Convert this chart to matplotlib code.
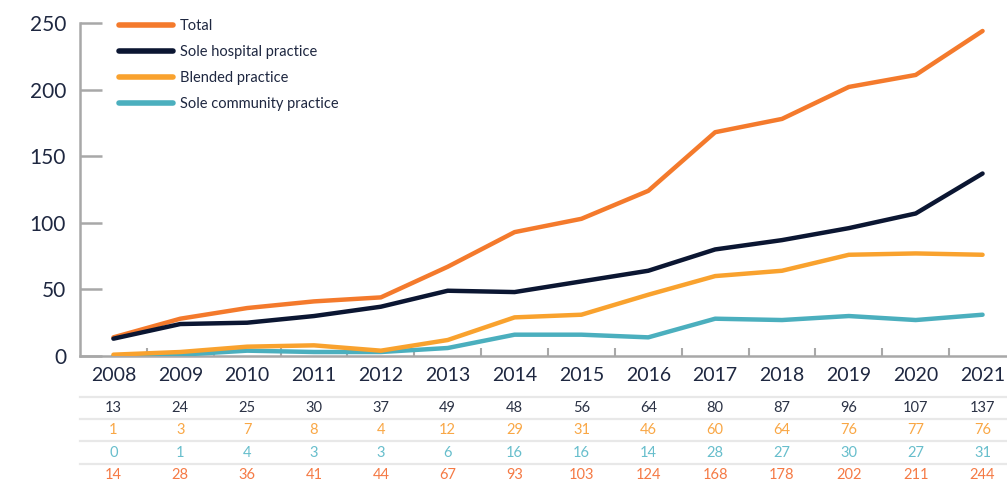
import matplotlib.pyplot as plt
from matplotlib.ticker import FixedLocator

plt.rcParams['font.family'] = ['Lato', 'DejaVu Sans']

years = ['2008', '2009', '2010', '2011', '2012', '2013', '2014',
         '2015', '2016', '2017', '2018', '2019', '2020', '2021']
hospital = [13, 24, 25, 30, 37, 49, 48, 56, 64, 80, 87, 96, 107, 137]
blended = [1, 3, 7, 8, 4, 12, 29, 31, 46, 60, 64, 76, 77, 76]
community = [0, 1, 4, 3, 3, 6, 16, 16, 14, 28, 27, 30, 27, 31]
total = [14, 28, 36, 41, 44, 67, 93, 103, 124, 168, 178, 202, 211, 244]

c_total = '#F47A2C'
c_hosp = '#0B1632'
c_blend = '#F9A22E'
c_comm = '#4BAFBE'
txt = '#1E2740'
axis_grey = '#A8A8A8'

W, H = 1007, 482
fig = plt.figure(figsize=(W / 100, H / 100), dpi=100)
left, right, top, bottom = 80, 1016, 23, 356
ax = fig.add_axes([left / W, 1 - bottom / H, (right - left) / W, (bottom - top) / H])

x = list(range(len(years)))
lw = 3.2
ax.plot(x, total, color=c_total, lw=lw, solid_capstyle='round', zorder=3, label='Total')
ax.plot(x, hospital, color=c_hosp, lw=lw, solid_capstyle='round', zorder=4, label='Sole hospital practice')
ax.plot(x, blended, color=c_blend, lw=lw, solid_capstyle='round', zorder=6, label='Blended practice')
ax.plot(x, community, color=c_comm, lw=lw, solid_capstyle='round', zorder=5, label='Sole community practice')

ax.set_xlim(-0.5, len(years) - 0.5)
ax.set_ylim(0, 250)
ax.spines['top'].set_visible(False)
ax.spines['right'].set_visible(False)
for s in ('left', 'bottom'):
    ax.spines[s].set_color(axis_grey)
    ax.spines[s].set_linewidth(1.8)

ax.set_yticks([0, 50, 100, 150, 200, 250])
ax.tick_params(axis='y', direction='in', length=16, width=1.8, color=axis_grey,
               labelsize=15, labelcolor=txt, pad=10)
ax.set_xticks(x)
ax.set_xticklabels(years)
ax.tick_params(axis='x', which='major', length=0, labelsize=14, labelcolor=txt, pad=8)
ax.xaxis.set_minor_locator(FixedLocator([i + 0.5 for i in range(len(years) - 1)]))
ax.tick_params(axis='x', which='minor', direction='in', length=6, width=1.5, color=axis_grey)

leg = ax.legend(loc='upper left', bbox_to_anchor=(0.028, 1.05), frameon=False,
                fontsize=10.5, handlelength=3.7, labelspacing=0.82, handletextpad=0.45,
                labelcolor=txt)
for h in leg.get_lines():
    h.set_solid_capstyle('round')
    h.set_linewidth(4)

# data table under the chart
rows = [(hospital, '#2B3245'), (blended, '#F9A745'), (community, '#67BECC'), (total, '#F57A45')]
row_y = [408, 430, 453, 475]
line_y = [397, 419, 441, 464]
for yl in line_y:
    fig.add_artist(plt.Line2D([left / W, 1], [1 - yl / H, 1 - yl / H],
                              color='#E8E8E8', lw=1.6))
for (vals, col), yp in zip(rows, row_y):
    for i, v in enumerate(vals):
        xf = (left + (i + 0.5) * (right - left) / len(years)) / W
        fig.text(xf, 1 - yp / H, str(v), color=col, fontsize=10.5,
                 ha='center', va='center')

fig.savefig('out.png', dpi=100)
